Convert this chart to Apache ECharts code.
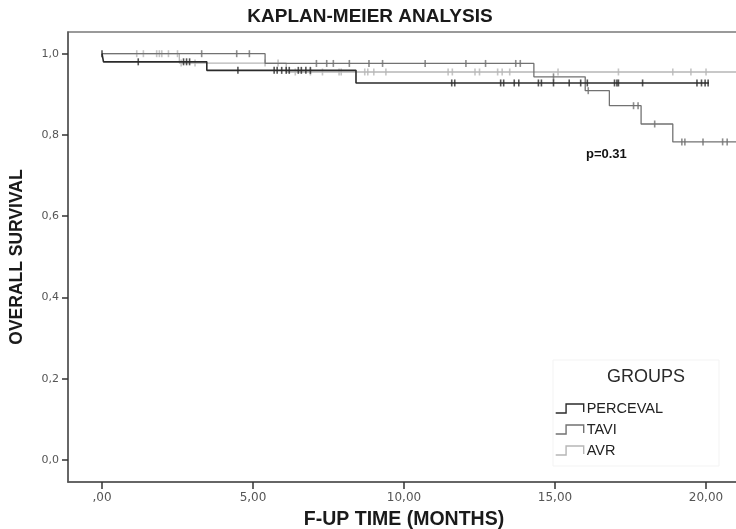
<!DOCTYPE html>
<html>
<head>
<meta charset="utf-8">
<script src="https://cdn.jsdelivr.net/npm/echarts@6/dist/echarts.min.js"></script>
<style>
  html, body { margin: 0; padding: 0; background: #ffffff; }
  #chart { width: 736px; height: 529px; }
</style>
</head>
<body>
<div id="chart"></div>
<script>
// Kaplan-Meier survival by treatment group (follow-up in months)
const groups = ['PERCEVAL', 'TAVI', 'AVR'];

// PERCEVAL: event times and survival after each event, censored follow-ups
const percevalEventTimes = [0.05, 3.47, 8.41];
const percevalSurvival = [0.980, 0.959, 0.928];
const percevalLastFollowUp = 20.1;
const percevalCensored = [0.0, 1.2, 2.7, 2.8, 2.9, 4.5, 5.7, 5.8, 5.95, 6.1, 6.2, 6.5, 6.6, 6.75, 6.9,
  11.58, 11.68, 13.2, 13.3, 13.65, 13.8, 14.45, 14.55, 14.95, 15.47, 15.85, 16.07, 16.97, 17.05, 17.1,
  17.9, 19.7, 19.85, 19.97, 20.07];

// TAVI
const taviEventTimes = [5.4, 14.3, 16.0, 16.8, 17.85, 18.9];
const taviSurvival = [0.976, 0.943, 0.909, 0.872, 0.827, 0.783];
const taviLastFollowUp = 21.6;
const taviCensored = [3.3, 4.46, 4.88, 7.1, 7.44, 7.66, 8.19, 8.84, 9.29, 10.7, 12.05, 12.7, 13.7, 13.85,
  14.95, 16.1, 17.6, 17.75, 18.3, 19.2, 19.3, 19.9, 20.55, 20.7];

// AVR
const avrEventTimes = [2.56, 6.1];
const avrSurvival = [0.977, 0.955];
const avrLastFollowUp = 21.6;
const avrCensored = [1.15, 1.37, 1.81, 1.9, 1.98, 2.2, 2.5, 2.62, 3.08, 5.4, 5.83, 6.4, 6.9, 7.3, 7.85, 7.92,
  8.7, 8.8, 9.0, 9.4, 11.46, 11.6, 12.35, 12.5, 13.1, 13.25, 13.5, 15.1, 17.1, 18.9, 19.5, 20.0];

// Axis ticks
const xTickValues = [0, 5, 10, 15, 20];
const xTickLabels = [',00', '5,00', '10,00', '15,00', '20,00'];
const yTickValues = [0, 0.2, 0.4, 0.6, 0.8, 1.0];
const yTickLabels = ['0,0', '0,2', '0,4', '0,6', '0,8', '1,0'];

const pValueText = 'p=0.31';

const groupColors = ['#2b2b2b', '#727272', '#b6b6b6'];
const groupLineWidths = [1.6, 1.3, 1.3];

function stepData(times, surv, last) {
  const pts = [[0, 1]];
  times.forEach((t, i) => pts.push([t, surv[i]]));
  pts.push([last, surv[surv.length - 1]]);
  return pts;
}
function survivalAt(times, surv, t) {
  let s = 1;
  times.forEach((et, i) => { if (et <= t) s = surv[i]; });
  return s;
}
function labelFor(values, labels) {
  return v => {
    let best = 0;
    values.forEach((tv, i) => { if (Math.abs(tv - v) < Math.abs(values[best] - v)) best = i; });
    return labels[best];
  };
}

const groupData = [
  { times: percevalEventTimes, surv: percevalSurvival, last: percevalLastFollowUp, cens: percevalCensored },
  { times: taviEventTimes, surv: taviSurvival, last: taviLastFollowUp, cens: taviCensored },
  { times: avrEventTimes, surv: avrSurvival, last: avrLastFollowUp, cens: avrCensored }
];

const series = [];
groupData.forEach((g, i) => {
  const z = 10 - i * 2;
  series.push({
    name: groups[i],
    type: 'line',
    step: 'end',
    data: stepData(g.times, g.surv, g.last),
    showSymbol: false,
    symbol: 'none',
    lineStyle: { color: groupColors[i], width: groupLineWidths[i] },
    itemStyle: { color: groupColors[i] },
    clip: true,
    silent: true,
    z: z
  });
  series.push({
    name: groups[i],
    type: 'scatter',
    data: g.cens.map(t => [t, survivalAt(g.times, g.surv, t)]),
    symbol: 'rect',
    symbolSize: [1.6, 7],
    itemStyle: { color: groupColors[i] },
    silent: true,
    z: z + 1
  });
});

const chart = echarts.init(document.getElementById('chart'), null, { renderer: 'canvas' });
chart.setOption({
  animation: false,
  backgroundColor: '#ffffff',
  title: [{
    text: 'KAPLAN-MEIER ANALYSIS',
    left: 370,
    textAlign: 'center',
    top: 7,
    padding: 0,
    textStyle: { fontFamily: 'Liberation Sans', fontWeight: 'bold', fontSize: 19, color: '#1a1a1a' }
  }, {
    text: 'GROUPS',
    left: 646,
    textAlign: 'center',
    top: 368,
    padding: 0,
    textStyle: { fontFamily: 'Liberation Sans', fontWeight: 'normal', fontSize: 18, color: '#2a2a2a' }
  }],
  grid: {
    left: 68, top: 32, width: 680, height: 450,
    show: true, backgroundColor: '#ffffff', borderColor: '#7a7a7a', borderWidth: 1.4,
    containLabel: false, outerBoundsMode: 'none'
  },
  xAxis: {
    type: 'value',
    min: -1.126, max: 21.39,
    name: 'F-UP TIME (MONTHS)',
    nameLocation: 'middle',
    nameGap: 28,
    nameTextStyle: { fontFamily: 'Liberation Sans', fontWeight: 'bold', fontSize: 19.5, color: '#1a1a1a', padding: [0, 8, 0, 0] },
    axisLine: { show: true, onZero: false, lineStyle: { color: '#555555', width: 1.5 } },
    axisTick: { show: true, customValues: xTickValues, length: 7, lineStyle: { color: '#333333', width: 1.5 } },
    axisLabel: {
      customValues: xTickValues, formatter: labelFor(xTickValues, xTickLabels),
      margin: 10, fontFamily: 'DejaVu Sans', fontSize: 12, color: '#555555'
    },
    splitLine: { show: false }
  },
  yAxis: {
    type: 'value',
    min: -0.054, max: 1.0534,
    name: 'OVERALL SURVIVAL',
    nameLocation: 'middle',
    nameGap: 42,
    nameTextStyle: { fontFamily: 'Liberation Sans', fontWeight: 'bold', fontSize: 17.5, color: '#1a1a1a' },
    axisLine: { show: true, onZero: false, lineStyle: { color: '#555555', width: 1.5 } },
    axisTick: { show: true, customValues: yTickValues, length: 6, lineStyle: { color: '#333333', width: 1.5 } },
    axisLabel: {
      customValues: yTickValues, formatter: labelFor(yTickValues, yTickLabels),
      margin: 9, fontFamily: 'DejaVu Sans', fontSize: 11, color: '#555555'
    },
    splitLine: { show: false }
  },
  legend: {
    orient: 'vertical',
    left: 555,
    top: 401,
    padding: 0,
    itemWidth: 28,
    itemHeight: 9,
    itemGap: 6,
    symbolKeepAspect: false,
    icon: 'path://M0,9L10,9L10,0L27,0L27,8',
    itemStyle: { color: 'rgba(0,0,0,0)', borderWidth: 1.4 },
    selectedMode: false,
    textStyle: { fontFamily: 'Liberation Sans', fontSize: 14.5, color: '#222222', padding: [0, 0, 0, -2] },
    data: groups.map((g, i) => ({ name: g, itemStyle: { borderColor: groupColors[i], color: 'rgba(0,0,0,0)' } }))
  },
  graphic: [{
    type: 'rect',
    shape: { x: 553, y: 360, width: 166, height: 106 },
    style: { fill: '#ffffff', stroke: '#f3f3f3', lineWidth: 1 },
    z: 0, silent: true
  }, {
    type: 'text',
    left: 586, top: 148,
    style: { text: pValueText, font: 'bold 13px "Liberation Sans"', fill: '#111111' },
    z: 100, silent: true
  }],
  series: series
});
</script>
</body>
</html>
